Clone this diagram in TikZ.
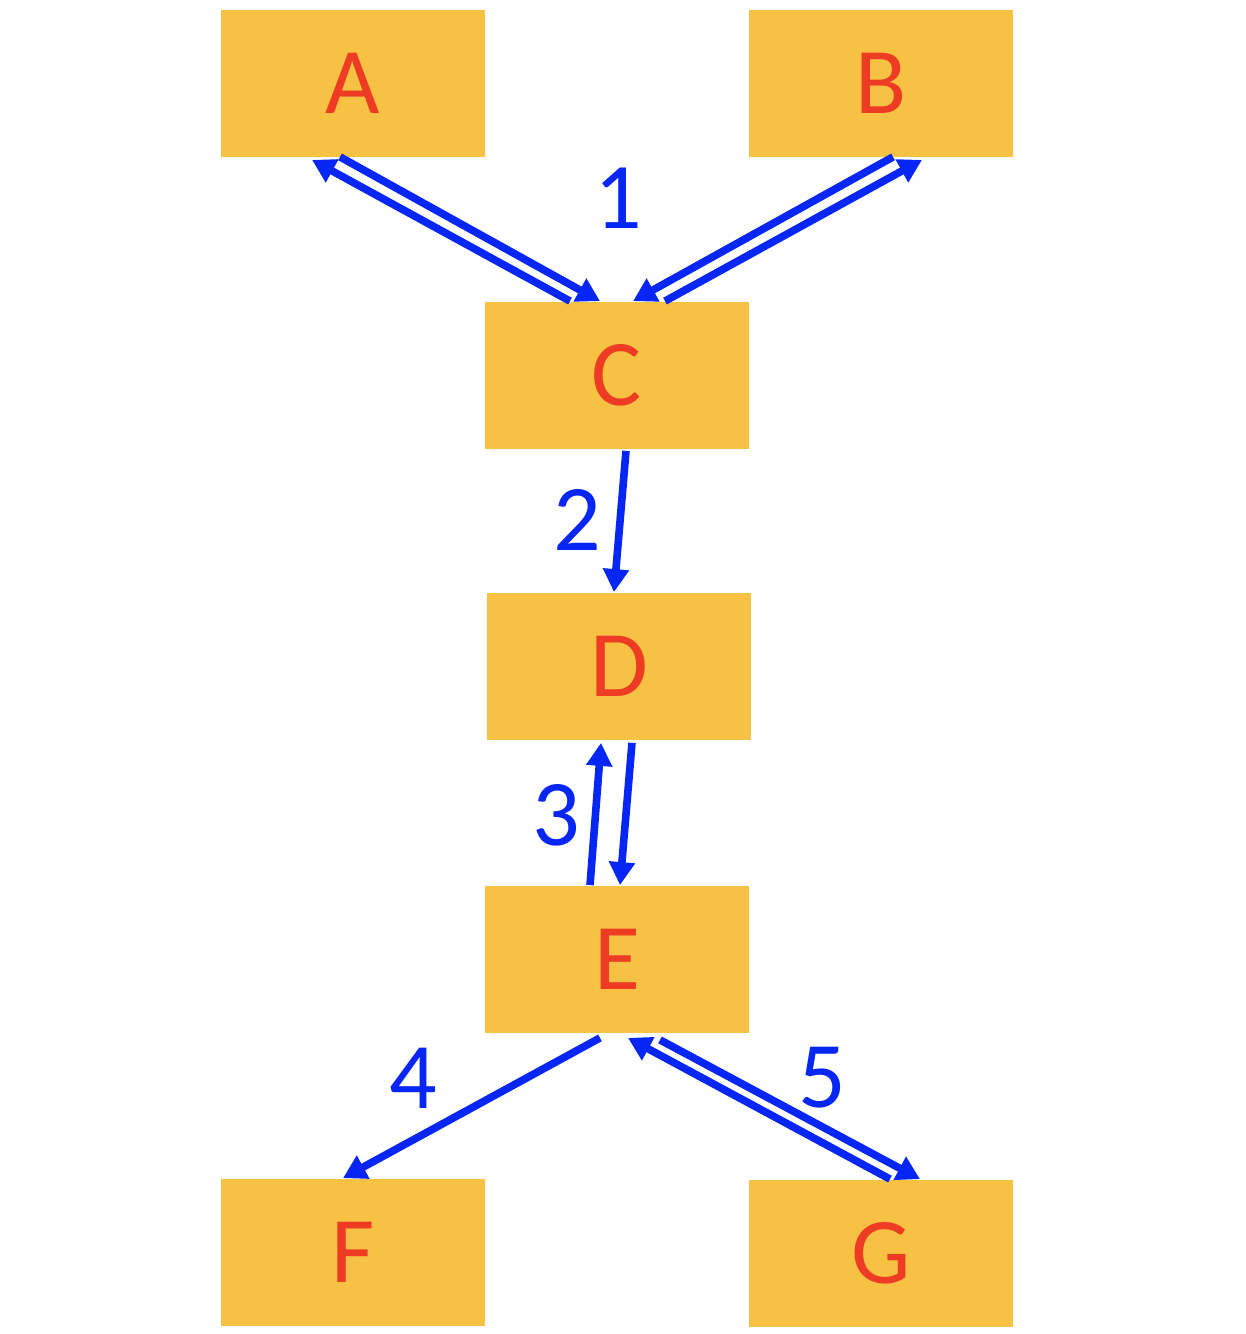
\documentclass[tikz,border=0pt]{standalone}
\usepackage{fontspec}
\setmainfont{Carlito}
\usepackage{xcolor}
\usetikzlibrary{arrows.meta, positioning}

\definecolor{boxfill}{HTML}{F7C144}
\definecolor{lettred}{HTML}{EE3B24}
\definecolor{arrblue}{HTML}{0526F5}

\begin{document}
\begin{tikzpicture}[x=0.5pt, y=-0.5pt, >={Triangle[length=11.5pt, width=12.5pt]},
        box/.style={rectangle, fill=boxfill, minimum width=132pt, minimum height=73.5pt, inner sep=0pt, text=lettred, font=\fontsize{47}{50}\selectfont},
        lbl/.style={text=arrblue, inner sep=0pt, font=\fontsize{47}{50}\selectfont},
        link/.style={draw=arrblue, line width=3.8pt}]
        \useasboundingbox (0,0) rectangle (1246,1334);

        \node (A) [box] at (353,83) {A};
        \node (B) [box] at (881,83) {B};
        \node (C) [box] at (617,375) {C};
        \node (D) [box] at (619,666) {D};
        \node (E) [box] at (617,959) {E};
        \node (F) [box] at (353,1252) {F};
        \node (G) [box] at (881,1253) {G};

        \node (n1) [lbl] at (618,198) {1};
        \node (n2) [lbl] at (577,520) {2};
        \node (n3) [lbl] at (556,815) {3};
        \node (n4) [lbl] at (413,1078) {4};
        \node (n5) [lbl] at (822,1078) {5};

        % A <-> C
        \draw[link, ->] ([xshift=-6.5pt]A.south) -- ([xshift=-8.5pt]C.north);
        \draw[link, ->] ([xshift=-23.5pt]C.north) -- ([xshift=-20.5pt, yshift=-1.5pt]A.south);
        % B <-> C
        \draw[link, ->] ([xshift=6pt]B.south) -- ([xshift=8pt]C.north);
        \draw[link, ->] ([xshift=24pt]C.north) -- ([xshift=20.5pt, yshift=-1.5pt]B.south);
        % C -> D
        \draw[link, ->] ([xshift=4.5pt, yshift=-1pt]C.south) -- ([xshift=-2.5pt]D.north);
        % D <-> E
        \draw[link, ->] ([xshift=-13.5pt]E.north) -- ([xshift=-9pt, yshift=-1.5pt]D.south);
        \draw[link, ->] ([xshift=6.5pt, yshift=-1.5pt]D.south) -- ([xshift=1.5pt]E.north);
        % E -> F
        \draw[link, ->] ([xshift=-8.5pt, yshift=-2.5pt]E.south) -- ([xshift=-5pt]F.north);
        % E <-> G
        \draw[link, ->] ([xshift=4.5pt]G.north) -- ([xshift=5.5pt, yshift=-2.5pt]E.south);
        \draw[link, ->] ([xshift=21.5pt, yshift=-3.5pt]E.south) -- ([xshift=19.5pt]G.north);
    \end{tikzpicture}
\end{document}
